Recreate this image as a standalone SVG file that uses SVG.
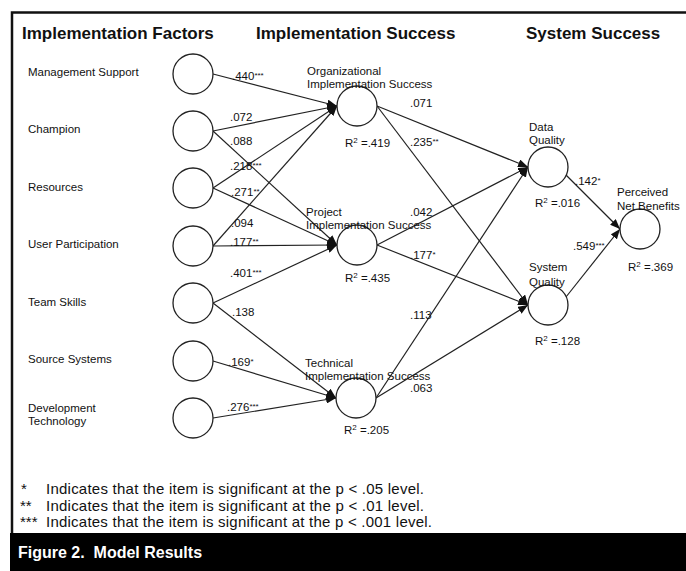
<svg xmlns="http://www.w3.org/2000/svg" width="686" height="571" viewBox="0 0 686 571">
<style>
text{font-family:"Liberation Sans",Arial,Helvetica,sans-serif;fill:#111}
.h{font-size:17px;font-weight:bold}
.l{font-size:11.5px}
.c{font-size:11.5px}
.s{font-size:8px}
.g{font-size:15px}
.cap{font-size:16px;font-weight:bold;fill:#fff}
.n{fill:#fff;stroke:#222;stroke-width:1.3}
.e{stroke:#222;stroke-width:1.2;fill:none;marker-end:url(#ah)}
</style>
<defs>
<marker id="ah" viewBox="0 0 10 8" refX="10" refY="4" markerWidth="10" markerHeight="8" markerUnits="userSpaceOnUse" orient="auto"><path d="M0,0 L10,4 L0,8 z" fill="#111"/></marker>
</defs>
<rect width="686" height="571" fill="#fff"/>
<path d="M12,533 V12.5 H686" fill="none" stroke="#111" stroke-width="2.5"/>
<rect x="10" y="533" width="676" height="38" fill="#000"/>
<text class="cap" x="18" y="558" xml:space="preserve">Figure 2.  Model Results</text>

<g id="headers">
<text class="h" x="22" y="39">Implementation Factors</text>
<text class="h" x="256" y="39">Implementation Success</text>
<text class="h" x="526" y="39">System Success</text>
</g>

<g id="connectors">
<line class="e" x1="213" y1="74" x2="337" y2="106"/>
<line class="e" x1="213" y1="131" x2="337" y2="106"/>
<line class="e" x1="213" y1="131" x2="337" y2="245"/>
<line class="e" x1="213" y1="188" x2="337" y2="106"/>
<line class="e" x1="213" y1="188" x2="337" y2="245"/>
<line class="e" x1="213" y1="246" x2="337" y2="106"/>
<line class="e" x1="213" y1="246" x2="337" y2="245"/>
<line class="e" x1="213" y1="303" x2="337" y2="245"/>
<line class="e" x1="213" y1="303" x2="336" y2="398"/>
<line class="e" x1="213" y1="361" x2="336" y2="398"/>
<line class="e" x1="213" y1="418" x2="336" y2="398"/>
<line class="e" x1="377" y1="106" x2="528" y2="167"/>
<line class="e" x1="377" y1="106" x2="528" y2="305"/>
<line class="e" x1="377" y1="245" x2="528" y2="167"/>
<line class="e" x1="377" y1="245" x2="528" y2="305"/>
<line class="e" x1="376" y1="398" x2="528" y2="167"/>
<line class="e" x1="376" y1="398" x2="528" y2="305"/>
<line class="e" x1="566" y1="175" x2="620" y2="229"/>
<line class="e" x1="566" y1="297" x2="620" y2="229"/>
</g>

<g id="coefficients">
<text class="c" x="232" y="80">.440<tspan class="s" dy="-2">***</tspan></text>
<text class="c" x="230" y="121">.072</text>
<text class="c" x="230" y="145">.088</text>
<text class="c" x="230" y="170">.218<tspan class="s" dy="-2">***</tspan></text>
<text class="c" x="231" y="196">.271<tspan class="s" dy="-2">**</tspan></text>
<text class="c" x="231" y="227">.094</text>
<text class="c" x="230" y="246">.177<tspan class="s" dy="-2">**</tspan></text>
<text class="c" x="230" y="277">.401<tspan class="s" dy="-2">***</tspan></text>
<text class="c" x="232" y="316">.138</text>
<text class="c" x="228" y="366">.169<tspan class="s" dy="-2">*</tspan></text>
<text class="c" x="227" y="411">.276<tspan class="s" dy="-2">***</tspan></text>
<text class="c" x="410" y="107">.071</text>
<text class="c" x="410" y="146">.235<tspan class="s" dy="-2">**</tspan></text>
<text class="c" x="410" y="216">.042</text>
<text class="c" x="410" y="259">.177<tspan class="s" dy="-2">*</tspan></text>
<text class="c" x="410" y="319">.113</text>
<text class="c" x="410" y="392">.063</text>
<text class="c" x="575" y="185">.142<tspan class="s" dy="-2">*</tspan></text>
<text class="c" x="573" y="250">.549<tspan class="s" dy="-2">***</tspan></text>
</g>

<g id="management-support"><circle class="n" cx="193" cy="74" r="20"/><text class="l" x="28" y="76">Management Support</text></g>
<g id="champion"><circle class="n" cx="193" cy="131" r="20"/><text class="l" x="28" y="133">Champion</text></g>
<g id="resources"><circle class="n" cx="193" cy="188" r="20"/><text class="l" x="28" y="191">Resources</text></g>
<g id="user-participation"><circle class="n" cx="193" cy="246" r="20"/><text class="l" x="28" y="248">User Participation</text></g>
<g id="team-skills"><circle class="n" cx="193" cy="303" r="20"/><text class="l" x="28" y="306">Team Skills</text></g>
<g id="source-systems"><circle class="n" cx="193" cy="361" r="20"/><text class="l" x="28" y="363">Source Systems</text></g>
<g id="development-technology"><circle class="n" cx="193" cy="418" r="20"/><text class="l" x="28" y="412">Development</text><text class="l" x="28" y="425">Technology</text></g>

<g id="organizational-implementation-success"><circle class="n" cx="357" cy="106" r="20"/>
<text class="l" x="307" y="75">Organizational</text><text class="l" x="307" y="88">Implementation Success</text>
<text class="l" x="345" y="147">R<tspan class="s" dy="-4">2</tspan><tspan dy="4"> =.419</tspan></text></g>
<g id="project-implementation-success"><circle class="n" cx="357" cy="245" r="20"/>
<text class="l" x="306" y="216">Project</text><text class="l" x="306" y="229">Implementation Success</text>
<text class="l" x="345" y="282">R<tspan class="s" dy="-4">2</tspan><tspan dy="4"> =.435</tspan></text></g>
<g id="technical-implementation-success"><circle class="n" cx="356" cy="398" r="20"/>
<text class="l" x="305" y="367">Technical</text><text class="l" x="305" y="380">Implementation Success</text>
<text class="l" x="344" y="434">R<tspan class="s" dy="-4">2</tspan><tspan dy="4"> =.205</tspan></text></g>

<g id="data-quality"><circle class="n" cx="548" cy="167" r="20"/>
<text class="l" x="529" y="131">Data</text><text class="l" x="529" y="144">Quality</text>
<text class="l" x="535" y="207">R<tspan class="s" dy="-4">2</tspan><tspan dy="4"> =.016</tspan></text></g>
<g id="system-quality"><circle class="n" cx="548" cy="305" r="20"/>
<text class="l" x="529" y="271">System</text><text class="l" x="529" y="286">Quality</text>
<text class="l" x="535" y="345">R<tspan class="s" dy="-4">2</tspan><tspan dy="4"> =.128</tspan></text></g>
<g id="perceived-net-benefits"><circle class="n" cx="640" cy="229" r="20"/>
<text class="l" x="617" y="196">Perceived</text><text class="l" x="617" y="210">Net Benefits</text>
<text class="l" x="628" y="271">R<tspan class="s" dy="-4">2</tspan><tspan dy="4"> =.369</tspan></text></g>

<g id="legend">
<text class="g" x="21" y="494">*</text><text class="g" x="46" y="494" textLength="378" lengthAdjust="spacing">Indicates that the item is significant at the p &lt; .05 level.</text>
<text class="g" x="20" y="511">**</text><text class="g" x="46" y="511" textLength="378" lengthAdjust="spacing">Indicates that the item is significant at the p &lt; .01 level.</text>
<text class="g" x="20" y="527">***</text><text class="g" x="46" y="527" textLength="386" lengthAdjust="spacing">Indicates that the item is significant at the p &lt; .001 level.</text>
</g>
</svg>
